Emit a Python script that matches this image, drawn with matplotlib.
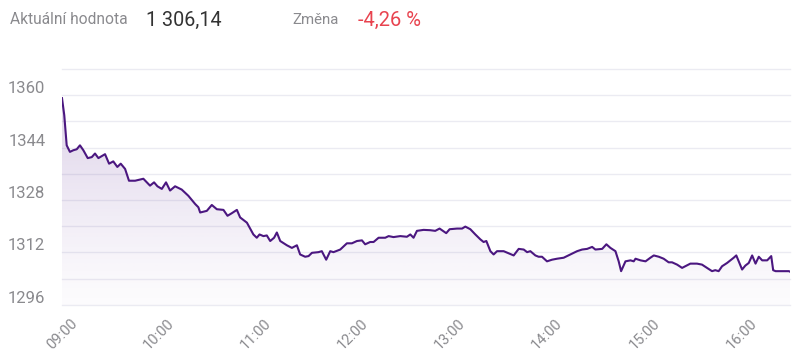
import numpy as np
import matplotlib
matplotlib.use("Agg")
import matplotlib.pyplot as plt
import matplotlib.transforms as mtransforms
from matplotlib.patches import Polygon

plt.rcParams['font.family'] = ['Roboto', 'DejaVu Sans']

# minutes after 09:00 and index value
minutes = [0, 1.4, 2.9, 4.9, 7.0, 9.1, 11.1, 13.2, 15.9, 18.4, 20.4, 22.5, 26.6, 29.1,
           31.7, 34.2, 36.3, 39.0, 41.4, 45.2, 50.3, 54.4, 56.9, 59.0, 61.7, 64.3,
           66.8, 69.9, 74.0, 78.1, 82.3, 84.3, 85.4, 89.5, 92.6, 95.7, 99.8, 102.3,
           105.0, 108.1, 110.1, 114.3, 118.3, 120.4, 122.1, 124.5, 126.6, 128.7,
           131.1, 132.8, 134.9, 139.0, 142.1, 145.2, 147.2, 150.3, 152.4, 154.5,
           158.5, 160.6, 163.3, 165.8, 167.8, 172.0, 176.1, 179.2, 182.3, 185.4,
           187.4, 190.5, 192.6, 195.7, 199.8, 201.9, 204.9, 209.1, 213.2, 215.3,
           217.3, 219.4, 223.5, 227.6, 230.7, 233.4, 235.5, 237.5, 239.6, 244.2,
           247.3, 249.3, 252.4, 255.5, 258.6, 260.6, 262.3, 264.8, 266.8, 268.9,
           273.0, 279.2, 282.3, 285.4, 287.5, 289.5, 292.6, 294.6, 296.7, 299.8,
           302.9, 306.0, 310.1, 314.3, 318.4, 321.5, 324.6, 327.7, 329.7, 333.9,
           336.5, 339.0, 342.1, 344.1, 345.6, 348.3, 351.4, 353.4, 354.5, 357.6,
           360.7, 363.7, 365.8, 368.9, 371.9, 375.0, 377.1, 380.2, 383.3, 385.3,
           388.4, 392.5, 395.6, 398.7, 401.8, 403.8, 405.9, 408.0, 411.1, 415.2,
           416.8, 418.3, 420.4, 422.4, 424.5, 426.6, 428.7, 430.7, 432.8, 435.9,
           438.4, 439.6, 441.1, 449.3, 450]
values = [1359.1, 1353.9, 1344.7, 1342.7, 1343.2, 1343.5, 1344.7, 1343.2, 1340.8, 1341.1,
          1342.2, 1340.8, 1342.0, 1339.1, 1339.8, 1338.1, 1339.1, 1337.5, 1333.9, 1333.9,
          1334.5, 1332.4, 1333.4, 1332.2, 1331.4, 1333.4, 1330.9, 1332.2, 1331.2, 1329.3,
          1326.8, 1325.8, 1324.2, 1324.7, 1326.5, 1325.2, 1325.0, 1323.2, 1324.0, 1325.0,
          1322.7, 1321.1, 1317.5, 1316.5, 1317.5, 1317.0, 1317.2, 1315.5, 1316.5, 1318.1,
          1315.5, 1314.2, 1313.4, 1314.2, 1311.4, 1310.7, 1310.9, 1311.9, 1312.1, 1312.4,
          1309.8, 1312.4, 1312.1, 1312.9, 1314.8, 1314.8, 1315.5, 1315.7, 1314.5, 1315.2,
          1315.2, 1316.5, 1316.5, 1317.0, 1316.7, 1317.0, 1316.8, 1317.5, 1316.5, 1318.6,
          1318.9, 1318.8, 1318.6, 1319.3, 1318.6, 1317.9, 1319.1, 1319.3, 1319.3, 1319.9,
          1319.1, 1317.5, 1316.0, 1315.2, 1315.5, 1312.4, 1311.4, 1312.4, 1312.4, 1311.1,
          1313.1, 1312.9, 1312.1, 1312.4, 1311.1, 1310.7, 1310.7, 1309.3, 1309.8,
          1310.1, 1310.4, 1311.4, 1312.4, 1312.9, 1313.1, 1313.7, 1312.9, 1313.1, 1314.5,
          1313.4, 1312.4, 1309.3, 1306.3, 1309.3, 1309.6, 1309.3, 1310.1, 1309.6, 1309.3,
          1310.4, 1311.1, 1310.7, 1310.1, 1309.0, 1309.0, 1308.3, 1307.3, 1307.8, 1308.6,
          1308.6, 1308.3, 1307.3, 1306.3, 1306.6, 1306.3, 1307.8, 1308.8, 1310.4, 1311.1,
          1309.3, 1306.8, 1308.0, 1308.8, 1311.1, 1308.6, 1310.7, 1309.6, 1309.6, 1310.9,
          1306.6, 1306.3, 1306.3, 1306.14]

hour_ticks = [0, 60, 120, 180, 240, 300, 360, 420]
hour_labels = ["09:00", "10:00", "11:00", "12:00", "13:00", "14:00", "15:00", "16:00"]
y_ticks = [1296, 1312, 1328, 1344, 1360]

line_color = "#4b1780"
grid_color = "#ebebf2"
label_color = "#8a8a8e"

fig = plt.figure(figsize=(8, 3.63), dpi=100)
ax = fig.add_axes([0.0775, 0.16, 0.91, 0.65])

ax.set_xlim(0, 450)
ax.set_ylim(1296, 1368)

# gradient fill under the line
x = np.array(minutes)
y = np.array(values)
grad = np.linspace(0, 1, 256)
rgba = np.zeros((256, 1, 4))
rgba[:, 0, :3] = matplotlib.colors.to_rgb("#7a4fa8")
rgba[:, 0, 3] = 0.02 + 0.24 * grad ** 1.2
img = ax.imshow(rgba, extent=[0, 450, 1296, 1360], origin="lower", aspect="auto", zorder=1)
poly = Polygon(np.column_stack([np.r_[x[0], x, x[-1]], np.r_[1296, y, 1296]]),
               closed=True, facecolor="none", edgecolor="none")
ax.add_patch(poly)
img.set_clip_path(poly)

ax.plot(x, y, color=line_color, lw=1.5, zorder=3, solid_joinstyle="round")

for v in np.arange(1296, 1369, 8):
    ax.axhline(v, color=grid_color, lw=1, zorder=0, clip_on=False)

for s in ax.spines.values():
    s.set_visible(False)

ax.set_yticks(y_ticks)
ax.set_yticklabels([str(t) for t in y_ticks])
ax.tick_params(axis="y", length=0, pad=12, labelsize=12, labelcolor=label_color)
offset = mtransforms.ScaledTranslation(0, 8 / 100, fig.dpi_scale_trans)
for lab in ax.get_yticklabels():
    lab.set_transform(lab.get_transform() + offset)

ax.set_xticks(hour_ticks)
ax.set_xticklabels(hour_labels, rotation=45, ha="center", va="top")
ax.tick_params(axis="x", length=0, pad=8, labelsize=10.5, labelcolor=label_color)

# header
fig.text(10 / 800, 1 - 20 / 363, "Aktuální hodnota", fontsize=11.2, color="#8a8a8e", va="center")
fig.text(146 / 800, 1 - 20 / 363, "1 306,14", fontsize=14.2, color="#333333", va="center")
fig.text(292 / 800, 1 - 20 / 363, "Změna", fontsize=10.8, color="#8a8a8e", va="center")
fig.text(358 / 800, 1 - 20 / 363, "-4,26 %", fontsize=14.5, color="#e8434f", va="center")

fig.savefig("out.png", dpi=100, facecolor="white")
